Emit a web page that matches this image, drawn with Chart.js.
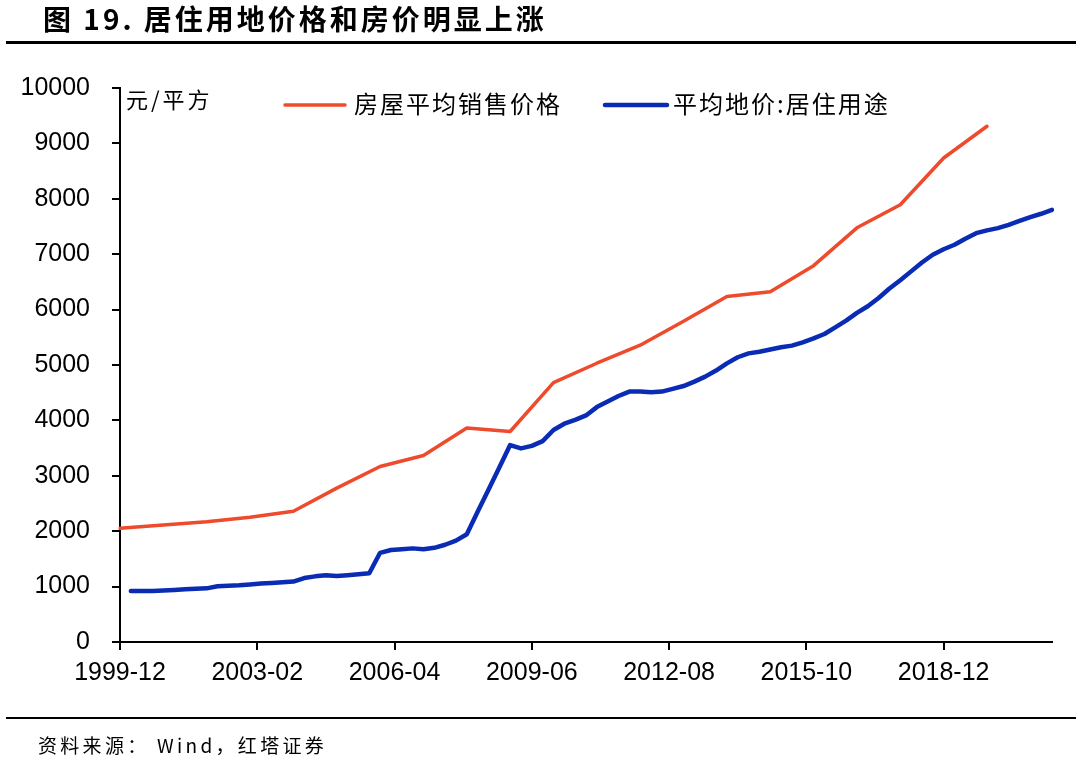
<!DOCTYPE html>
<html>
<head>
<meta charset="utf-8">
<script src="https://cdn.jsdelivr.net/npm/chart.js@4.4.1/dist/chart.umd.min.js"></script>
<style>
  html, body { margin:0; padding:0; background:#fff; }
  #wrap { position:relative; width:1080px; height:771px; overflow:hidden; }
  #c { position:absolute; left:0; top:0; }
  .title { position:absolute; left:43px; top:0; height:37px; line-height:37px;
           font-family:"Noto Sans CJK SC", sans-serif; font-weight:700; font-size:28px; letter-spacing:3px; color:#000; white-space:nowrap; }
  .rule1 { position:absolute; left:6px; width:1070px; top:41px; height:3px; background:#000; }
  .rule2 { position:absolute; left:6px; width:1070px; top:717px; height:2px; background:#000; }
  .src { position:absolute; left:38px; top:731px; height:28px; line-height:28px;
         font-family:"Noto Sans CJK SC", sans-serif; font-size:19px; letter-spacing:3.3px; color:#000; white-space:nowrap; }
</style>
</head>
<body>
<div id="wrap">
  <canvas id="c" width="1080" height="771"></canvas>
  <div class="title">图 19. 居住用地价格和房价明显上涨</div>
  <div class="rule1"></div>
  <div class="rule2"></div>
  <div class="src">资料来源： Wind，红塔证券</div>
</div>
<script>

//------------------------------------------------------------------
// data

var first_year = 1999, first_month = 12;
var last_year = 2021, last_month = 6;

// 房屋平均销售价格, annual (December of each year)
var house_years  = [1999,2000,2001,2002,2003,2004,2005,2006,2007,2008,2009,2010,2011,2012,2013,2014,2015,2016,2017,2018,2019];
var house_values = [2053,2112,2170,2250,2359,2778,3168,3367,3864,3800,4681,5032,5357,5791,6237,6324,6793,7476,7892,8737,9310];

// 平均地价:居住用途, quarterly from 2000-03
var land_start = "2000-03";
var land_values = [
     920, 920, 922, 928,   938, 950, 960, 968,   1005,1015,1025,1040,
    1055,1065,1078,1090,   1155,1185,1205,1190,  1205,1222,1240,1610,
    1660,1675,1690,1675,   1700,1755,1830,1945,  2350,2750,3150,3555,
    3495,3540,3625,3827,   3940,4010,4090,4240,  4340,4440,4520,4520,
    4510,4520,4570,4620,   4700,4790,4900,5030,  5140,5210,5240,5280,
    5320,5350,5410,5480,   5560,5680,5800,5940,  6060,6210,6380,6530,
    6690,6850,6990,7090,   7170,7280,7380,7430,  7470,7530,7600,7670,
    7730,7800
];

var tick_every = 38;
var y_ticks = [0,1000,2000,3000,4000,5000,6000,7000,8000,9000,10000];

var name_house = "房屋平均销售价格";
var name_land  = "平均地价:居住用途";
var unit_text  = "元/平方";

var color_house = "#ee4a2c";
var color_land  = "#0a2cb4";

//------------------------------------------------------------------

function pad2(n){ return (n < 10 ? "0" : "") + n; }

var labels = [];
var y = first_year, m = first_month;
while( y < last_year || (y == last_year && m <= last_month) ){
    labels.push(y + "-" + pad2(m));
    m++;
    if( m > 12 ){ m = 1; y++; }
}

var house_data = [];
for (let i = 0; i < house_years.length; i++) {
    house_data.push({ x: house_years[i] + "-12", y: house_values[i] });
}

var land_data = [];
var start_index = labels.indexOf(land_start);
for (let i = 0; i < land_values.length; i++) {
    land_data.push({ x: labels[start_index + i*3], y: land_values[i] });
}

//------------------------------------------------------------------
// legend + unit drawn inside the plot

const legend_plugin = {
    id: "legend_inside",
    afterDraw(chart){
        const c = chart.ctx;
        c.save();
        c.fillStyle = "#000";
        c.textBaseline = "middle";
        c.font = '22px "Noto Sans CJK SC"';
        c.letterSpacing = "3px";
        c.fillText(unit_text, 126, 100);

        const items = [
            [color_house, name_house, 285, 345, 354, 3.5],
            [color_land,  name_land,  605, 667, 673, 4.5],
        ];
        c.lineCap = "round";
        c.font = '24px "Noto Sans CJK SC"';
        c.letterSpacing = "2px";
        for (let i = 0; i < items.length; i++) {
            c.strokeStyle = items[i][0];
            c.lineWidth = items[i][5];
            c.beginPath();
            c.moveTo(items[i][2], 105);
            c.lineTo(items[i][3], 105);
            c.stroke();
            c.fillStyle = "#000";
            c.fillText(items[i][1], items[i][4], 104);
        }
        c.restore();
    }
};

const ctx = document.getElementById("c");

const land_chart = new Chart(ctx, {
    type: "line",
    data: {
        labels: labels,
        datasets: [{
            label: name_house,
            data: house_data,
            borderColor: color_house,
            borderWidth: 3.5,
            pointRadius: 0,
            borderJoinStyle: "round",
            borderCapStyle: "round",
        },{
            label: name_land,
            data: land_data,
            borderColor: color_land,
            borderWidth: 4.5,
            pointRadius: 0,
            borderJoinStyle: "round",
            borderCapStyle: "round",
        }]
    },
    options: {
        responsive: false,
        animation: false,
        layout: { padding: { left: 0, right: 28, top: 88, bottom: 89 } },
        plugins: {
            legend: { display: false },
            tooltip: { enabled: false },
        },
        scales: {
            x: {
                type: "category",
                offset: false,
                grid: { drawOnChartArea: false, color: "#000", lineWidth: 2, tickLength: 8 },
                border: { color: "#000", width: 2 },
                ticks: {
                    autoSkip: false,
                    maxRotation: 0,
                    minRotation: 0,
                    padding: 8,
                    color: "#000",
                    font: { family: '"Liberation Sans", Arial', size: 25 },
                    callback: function(v, i){
                        if( i % tick_every == 0 ) return labels[i];
                        return null;
                    }
                },
                afterFit: function(s){ s.height = 40; }
            },
            y: {
                min: 0,
                max: 10000,
                grid: { drawOnChartArea: false, color: "#000", lineWidth: 2, tickLength: 8 },
                border: { color: "#000", width: 2 },
                afterBuildTicks: function(s){ s.ticks = y_ticks.map(v => ({ value: v })); },
                ticks: {
                    padding: 22,
                    color: "#000",
                    font: { family: '"Liberation Sans", Arial', size: 25 },
                    callback: function(v){ return String(v); }
                },
                afterFit: function(s){ s.width = 120; }
            }
        }
    },
    plugins: [legend_plugin]
});

</script>
</body>
</html>
